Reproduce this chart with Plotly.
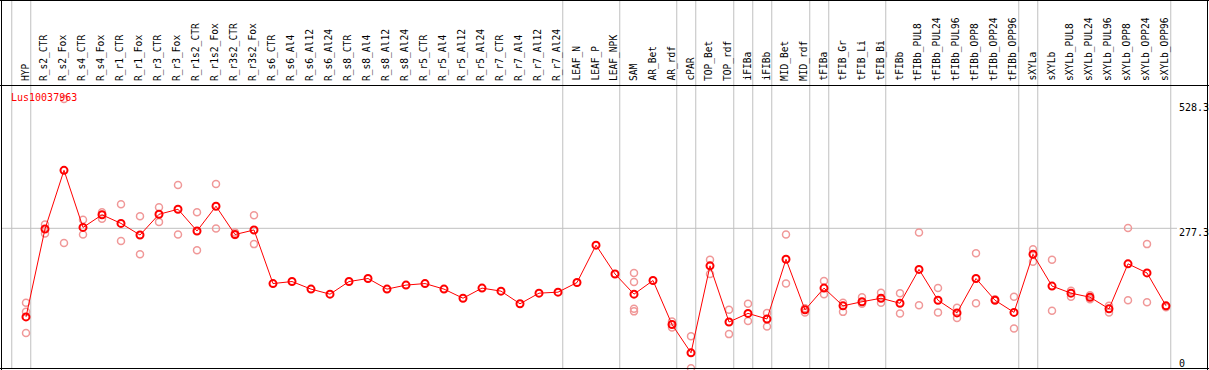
import plotly.graph_objects as go

W, H = 1209, 370

labels = ["HYP", "R_s2_CTR", "R_s2_Fox", "R_s4_CTR", "R_s4_Fox", "R_r1_CTR", "R_r1_Fox",
          "R_r3_CTR", "R_r3_Fox", "R_r1s2_CTR", "R_r1s2_Fox", "R_r3s2_CTR", "R_r3s2_Fox",
          "R_s6_CTR", "R_s6_Al4", "R_s6_Al12", "R_s6_Al24", "R_s8_CTR", "R_s8_Al4",
          "R_s8_Al12", "R_s8_Al24", "R_r5_CTR", "R_r5_Al4", "R_r5_Al12", "R_r5_Al24",
          "R_r7_CTR", "R_r7_Al4", "R_r7_Al12", "R_r7_Al24", "LEAF_N", "LEAF_P", "LEAF_NPK",
          "SAM", "AR_Bet", "AR_rdf", "cPAR", "TOP_Bet", "TOP_rdf", "iFIBa", "iFIBb",
          "MID_Bet", "MID_rdf", "tFIBa", "tFIB_Gr", "tFIB_Li", "tFIB_Bi", "tFIBb",
          "tFIBb_PUL8", "tFIBb_PUL24", "tFIBb_PUL96", "tFIBb_OPP8", "tFIBb_OPP24",
          "tFIBb_OPP96", "sXYLa", "sXYLb", "sXYLb_PUL8", "sXYLb_PUL24", "sXYLb_PUL96",
          "sXYLb_OPP8", "sXYLb_OPP24", "sXYLb_OPP96"]

means = [102, 276, 392, 279, 304, 287, 264, 305, 315, 272, 321, 265, 274,
         168, 172, 157, 147, 172, 178, 157, 165, 168, 157, 139, 159, 153, 128, 149, 151,
         170, 244, 187, 147, 174, 87, 31, 203, 92, 109, 98, 216, 116, 159, 124, 132, 139,
         129, 196, 135, 110, 178, 135, 111, 226, 163, 149, 141, 118, 207, 189, 124]

replicates = [
    [130, 112, 70], [285, 267], [533, 248], [294, 265], [309, 296], [325, 252],
    [301, 226], [319, 290], [363, 265], [309, 234], [365, 277], [269, 264], [303, 246],
    [], [], [], [], [], [], [], [], [], [], [], [], [], [], [], [], [], [], [],
    [189, 171, 118, 113], [], [93, 81], [64, 0.5], [215, 187], [116, 68], [128, 94],
    [110, 83], [265, 168], [119, 111], [173, 147], [130, 112], [141, 128], [150, 130],
    [149, 109], [269, 125], [159, 111], [120, 100], [228, 129], [137], [142, 79],
    [236, 211], [215, 114], [154, 142], [145, 137], [124, 111], [278, 135], [246, 131],
    [121],
]

group_ends = [-1, 0, 28, 31, 34, 35, 37, 38, 39, 41, 42, 45, 52, 53, 60]

title_text = "Lus10037963"
ytick_vals = [528.3, 277.3, 0]
ytick_text = ["528.3", "277.3", "0"]

# pixel geometry
X0, DX = 26.0, 19.0
xmin = -X0 / DX
xmax = xmin + W / DX
Y0PX = 368.5
S = (368.5 - 228.3) / 277.3
ymax = Y0PX / S
ymin = -(H - Y0PX) / S


def px_x(p):
    return p / W


def px_y(p):
    return 1 - p / H


def val_px(v):
    return Y0PX - v * S


xs = list(range(len(labels)))
rx, ry = [], []
for i, reps in enumerate(replicates):
    for v in reps:
        rx.append(i)
        ry.append(v)

fig = go.Figure()
fig.add_trace(go.Scatter(
    x=rx, y=ry, mode="markers",
    marker=dict(symbol="circle-open", size=7, color="#f09898", line=dict(width=1.5, color="#f09898")),
    hoverinfo="skip", showlegend=False))
fig.add_trace(go.Scatter(
    x=xs, y=means, mode="lines+markers",
    line=dict(color="#ff0000", width=1),
    marker=dict(symbol="circle-open", size=7, color="#ff0000", line=dict(width=2, color="#ff0000")),
    showlegend=False))

shapes = []
grey = "rgb(192,192,192)"
for g in group_ends:
    xg = g + 0.25
    shapes.append(dict(type="line", xref="x", yref="paper", x0=xg, x1=xg, y0=px_y(368), y1=1,
                       line=dict(color=grey, width=1), layer="below"))
# threshold gridline
shapes.append(dict(type="line", xref="paper", yref="y", x0=px_x(1.5), x1=px_x(1177),
                   y0=277.3, y1=277.3, line=dict(color=grey, width=1), layer="below"))
# frame
blk = dict(color="black", width=1)
shapes += [
    dict(type="line", xref="paper", yref="paper", x0=px_x(0), x1=px_x(1209), y0=px_y(0.5), y1=px_y(0.5), line=blk),
    dict(type="line", xref="paper", yref="paper", x0=px_x(0), x1=px_x(1209), y0=px_y(85.5), y1=px_y(85.5), line=blk),
    dict(type="line", xref="paper", yref="paper", x0=px_x(0), x1=px_x(1209), y0=px_y(368.5), y1=px_y(368.5), line=blk),
    dict(type="line", xref="paper", yref="paper", x0=px_x(1.5), x1=px_x(1.5), y0=0, y1=1, line=blk),
    dict(type="line", xref="paper", yref="paper", x0=px_x(1207.5), x1=px_x(1207.5), y0=0, y1=1, line=blk),
]

annotations = []
mono = "DejaVu Sans Mono"
for i, lab in enumerate(labels):
    annotations.append(dict(x=i - 0.05, y=px_y(83), xref="x", yref="paper", text=lab,
                            textangle=-90, showarrow=False, xanchor="center", yanchor="bottom",
                            font=dict(family=mono, size=9.6, color="black")))
annotations.append(dict(x=px_x(9), y=px_y(97), xref="paper", yref="paper", text=title_text,
                        showarrow=False, xanchor="left", yanchor="middle",
                        font=dict(family=mono, size=10, color="#ff0000")))
tick_offsets = [6, 4, -5.5]
for v, t, off in zip(ytick_vals, ytick_text, tick_offsets):
    annotations.append(dict(x=px_x(1177), y=px_y(val_px(v) + off), xref="paper", yref="paper",
                            text=t, showarrow=False, xanchor="left", yanchor="middle",
                            font=dict(family=mono, size=10, color="black")))

fig.update_layout(
    width=W, height=H,
    margin=dict(l=0, r=0, t=0, b=0),
    paper_bgcolor="white", plot_bgcolor="white",
    xaxis=dict(range=[xmin, xmax], visible=False, fixedrange=True),
    yaxis=dict(range=[ymin, ymax], visible=False, fixedrange=True),
    shapes=shapes, annotations=annotations,
    showlegend=False,
)

fig.write_html("out.html",
               config={"displayModeBar": False, "staticPlot": True},
               post_script="document.body.style.margin='0px';document.body.style.padding='0px';document.body.style.overflow='hidden';")
